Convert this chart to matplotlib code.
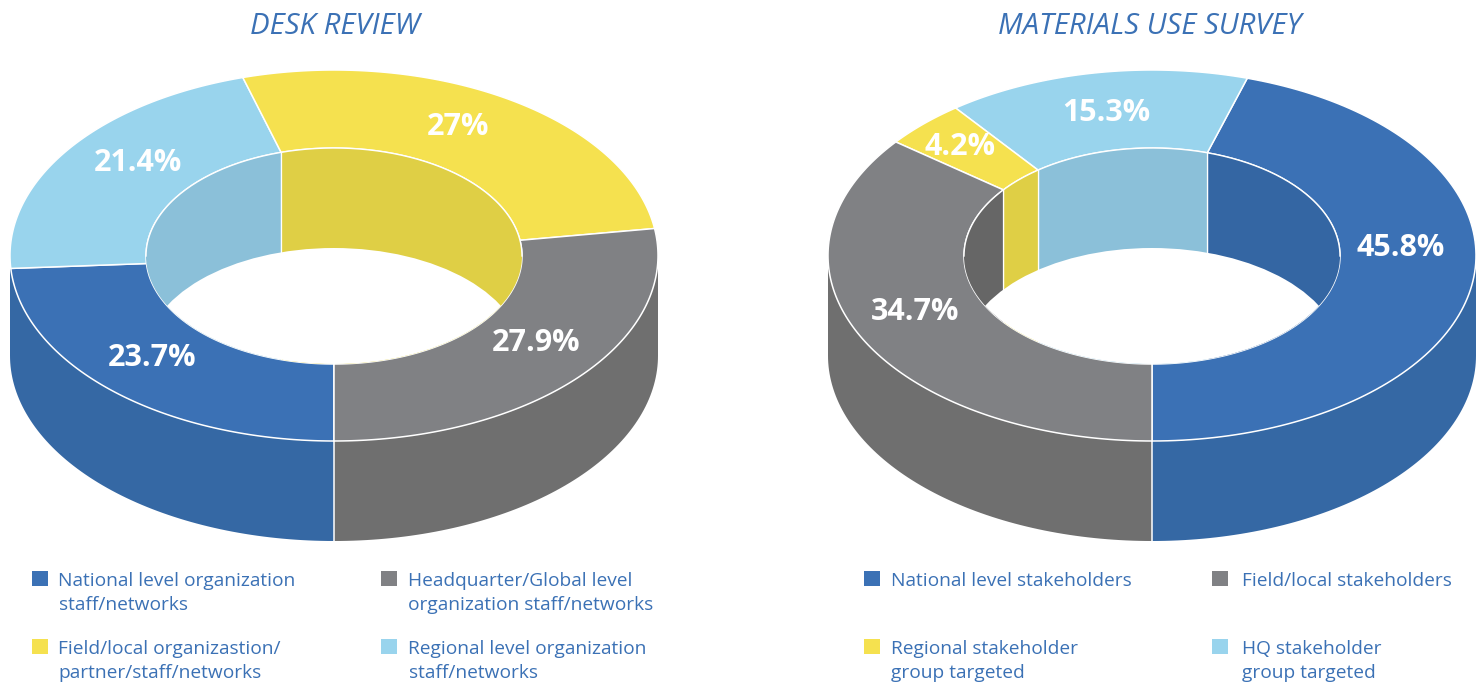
import matplotlib
matplotlib.use('Agg')
import matplotlib.pyplot as plt
from matplotlib.patches import Polygon, Ellipse, Rectangle
import numpy as np

plt.rcParams['font.family'] = ['Open Sans', 'DejaVu Sans']

# slice order, walking round each ring from the bottom seam
slices = ['national', 'regional', 'field', 'hq']
desk_values = [23.7, 21.4, 27, 27.9]
survey_values = [45.8, 15.3, 4.2, 34.7]

desk_label_xy = [(152, 358), (138, 163), (458, 127), (536, 343)]
survey_label_xy = [(1401, 248), (1106, 113), (960, 147), (915, 312)]

desk_legend = [
    ('national', 'National level organization\nstaff/networks'),
    ('hq', 'Headquarter/Global level\norganization staff/networks'),
    ('field', 'Field/local organizastion/\npartner/staff/networks'),
    ('regional', 'Regional level organization\nstaff/networks'),
]
survey_legend = [
    ('national', 'National level stakeholders'),
    ('hq', 'Field/local stakeholders'),
    ('field', 'Regional stakeholder\ngroup targeted'),
    ('regional', 'HQ stakeholder\ngroup targeted'),
]

top_colors = {'national': '#3b71b5', 'regional': '#99d4ed', 'field': '#f5e14f', 'hq': '#808184'}
side_colors = {'national': '#3568a4', 'hq': '#6f6f6f'}
wall_colors = {'national': '#3466a3', 'regional': '#8bc0d9', 'field': '#dfcf45', 'hq': '#666666'}
text_blue = '#3b71b5'

OUT_A, OUT_B = 324, 185.5
IN_A, IN_B = 188, 108
DEPTH = 100


def ring_xy(cx, cy, a, b, t, sign):
    # t is degrees from the bottom of the ellipse
    r = np.radians(t)
    return np.column_stack([cx + sign * a * np.sin(r), cy + b * np.cos(r)])


def draw_ring(ax, cx, values, sign, skew):
    cy_out, cy_in = 255.5, 256
    # slight skew so the seams land where the drawn perspective puts them
    edges = np.cumsum([0] + list(values)) * 3.6 * skew
    edges[-1] = 360

    # outer side, only first and last slice show at the front
    for name, t0, t1 in [(slices[0], 0, 90), (slices[-1], 270, 360)]:
        ts = np.linspace(t0, t1, 80)
        upper = ring_xy(cx, cy_out, OUT_A, OUT_B, ts, sign)
        lower = ring_xy(cx, cy_out + DEPTH, OUT_A, OUT_B, ts, sign)
        ax.add_patch(Polygon(np.vstack([upper, lower[::-1]]), fc=side_colors[name], ec='none', zorder=1))
    ax.plot([cx, cx], [cy_out + OUT_B, cy_out + OUT_B + DEPTH], color='white', lw=1.1, zorder=2)

    # top face
    for i, name in enumerate(slices):
        ts = np.linspace(edges[i], edges[i + 1], 120)
        outer = ring_xy(cx, cy_out, OUT_A, OUT_B, ts, sign)
        inner = ring_xy(cx, cy_in, IN_A, IN_B, ts, sign)
        ax.add_patch(Polygon(np.vstack([outer, inner[::-1]]), fc=top_colors[name], ec='white', lw=1.1, zorder=3))

    # inner wall seen through the hole, seams near the back only
    hole = Ellipse((cx, cy_in), 2 * IN_A, 2 * IN_B, transform=ax.transData)
    seams = [(edges[i + 1], slices[i], slices[i + 1]) for i in range(3) if abs(edges[i + 1] - 180) < 75]
    xs = [cx + sign * IN_A * np.sin(np.radians(s[0])) for s in seams]
    bounds = [cx + sign * IN_A * 1.01] + xs + [cx - sign * IN_A * 1.01]
    names = [seams[0][1]] + [s[2] for s in seams]
    for k, name in enumerate(names):
        x0, x1 = sorted([bounds[k], bounds[k + 1]])
        wall = Rectangle((x0, cy_in - IN_B - 2), x1 - x0, 2 * IN_B + 4,
                         fc=wall_colors[name], ec='white', lw=0.9, zorder=4)
        ax.add_patch(wall)
        wall.set_clip_path(hole)
    gap = Ellipse((cx, cy_in + DEPTH), 2 * IN_A + 1, 2 * IN_B, fc='white', ec='none', zorder=5)
    ax.add_patch(gap)
    gap.set_clip_path(hole)

    ts = np.linspace(90, 270, 200)
    back = ring_xy(cx, cy_in, IN_A, IN_B, ts, sign)
    ax.plot(back[:, 0], back[:, 1], color='white', lw=1.0, zorder=6)


def draw_legend(ax, entries, box_x, text_x):
    rows = [579, 579, 647, 647]
    for i, (name, txt) in enumerate(entries):
        col = i % 2
        ax.add_patch(Rectangle((box_x[col], rows[i] - 8), 15.5, 15, fc=top_colors[name], ec='none'))
        lines = txt.split('\n')
        for j, line in enumerate(lines):
            ax.text(text_x[col], rows[i] + 2 + j * 24, line, color=text_blue, fontsize=13.75, ha='left', va='center')


fig = plt.figure(figsize=(14.76, 6.86), dpi=100)
ax = fig.add_axes([0, 0, 1, 1])
ax.set_xlim(0, 1476)
ax.set_ylim(686, 0)
ax.axis('off')

draw_ring(ax, 334, desk_values, -1, 1.008)
draw_ring(ax, 1152, survey_values, 1, 0.988)

for values, label_xy in [(desk_values, desk_label_xy), (survey_values, survey_label_xy)]:
    for v, (x, y) in zip(values, label_xy):
        ax.text(x, y, f'{v:g}%', color='white', fontsize=22, fontweight='bold', ha='center', va='center', zorder=8)

ax.text(334.5, 26, 'DESK REVIEW', color=text_blue, fontsize=21.2, style='italic', ha='center', va='center')
ax.text(1150, 26, 'MATERIALS USE SURVEY', color=text_blue, fontsize=21.2, style='italic', ha='center', va='center')

draw_legend(ax, desk_legend, [32, 381], [58.5, 408.5])
draw_legend(ax, survey_legend, [864, 1212], [891, 1241.5])

fig.savefig('out.png', dpi=100)
